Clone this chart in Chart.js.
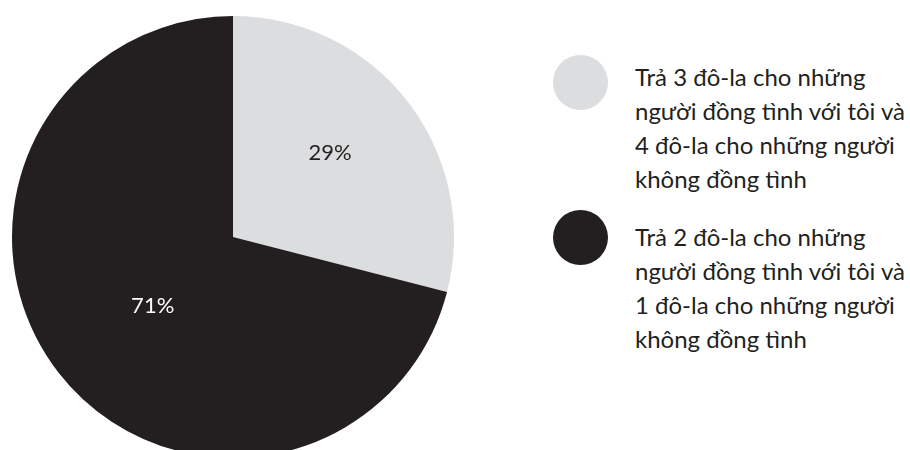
<!DOCTYPE html>
<html>
<head>
<meta charset="utf-8">
<script src="https://cdn.jsdelivr.net/npm/chart.js@4/dist/chart.umd.min.js"></script>
<style>
  html, body { margin: 0; padding: 0; background: #fff; overflow: hidden; }
  #wrap { position: relative; width: 910px; height: 450px; overflow: hidden; }
  #pieBox { position: absolute; left: 0; top: 4px; width: 466px; height: 466px; }
  #legend { position: absolute; left: 553px; top: 0; width: 357px; }
  .dot { position: absolute; left: 0; width: 55px; height: 55px; border-radius: 50%; }
  .txt { position: absolute; left: 82px; width: 290px; font-family: "Lato", sans-serif;
         font-size: 24px; line-height: 34px; color: #231f20; white-space: nowrap; }
</style>
</head>
<body>
<div id="wrap">
  <div id="pieBox"><canvas id="pie"></canvas></div>
  <div id="legend"></div>
</div>
<script>
// Chart data
const categories = [
    'Trả 3 đô-la cho những người đồng tình với tôi và 4 đô-la cho những người không đồng tình',
    'Trả 2 đô-la cho những người đồng tình với tôi và 1 đô-la cho những người không đồng tình'
];
const values = [29, 71];
const sliceColors = ['#dcdddf', '#231f20'];
const labelColors = ['#231f20', '#ffffff'];

// Lines of legend text as set in the picture
const legendLines = [
    ['Trả 3 đô-la cho những', 'người đồng tình với tôi và', '4 đô-la cho những người', 'không đồng tình'],
    ['Trả 2 đô-la cho những', 'người đồng tình với tôi và', '1 đô-la cho những người', 'không đồng tình']
];

// how far out from the centre each percentage sits (share of radius)
const labelRadius = [0.58, 0.48];
const labelTurn = -3 * Math.PI / 180; // labels sit a little before mid-slice

// Draw percentage text inside each slice
const sliceLabels = {
    id: 'sliceLabels',
    afterDatasetsDraw(chart) {
        const ctx = chart.ctx;
        const meta = chart.getDatasetMeta(0);
        ctx.save();
        ctx.font = '22px "Lato", sans-serif';
        ctx.textAlign = 'center';
        ctx.textBaseline = 'middle';
        meta.data.forEach((arc, i) => {
            const p = arc.getProps(['x', 'y', 'startAngle', 'endAngle', 'outerRadius']);
            const mid = (p.startAngle + p.endAngle) / 2 + labelTurn;
            const r = p.outerRadius * labelRadius[i];
            ctx.fillStyle = labelColors[i];
            ctx.fillText(values[i] + '%', p.x + Math.cos(mid) * r, p.y + Math.sin(mid) * r);
        });
        ctx.restore();
    }
};

new Chart(document.getElementById('pie'), {
    type: 'pie',
    data: {
        labels: categories,
        datasets: [{
            data: values,
            backgroundColor: sliceColors,
            borderWidth: 0
        }]
    },
    options: {
        responsive: true,
        maintainAspectRatio: false,
        animation: false,
        layout: { padding: 12 },
        plugins: {
            legend: { display: false },
            tooltip: { enabled: false }
        }
    },
    plugins: [sliceLabels]
});

// Legend built from the same arrays
const dotTops = [55, 210];
const textTops = [60, 220];
const legend = document.getElementById('legend');
categories.forEach((cat, i) => {
    const dot = document.createElement('div');
    dot.className = 'dot';
    dot.style.top = dotTops[i] + 'px';
    dot.style.background = sliceColors[i];
    dot.title = cat;
    const txt = document.createElement('div');
    txt.className = 'txt';
    txt.style.top = textTops[i] + 'px';
    txt.innerHTML = legendLines[i].join('<br>');
    legend.appendChild(dot);
    legend.appendChild(txt);
});
</script>
</body>
</html>
